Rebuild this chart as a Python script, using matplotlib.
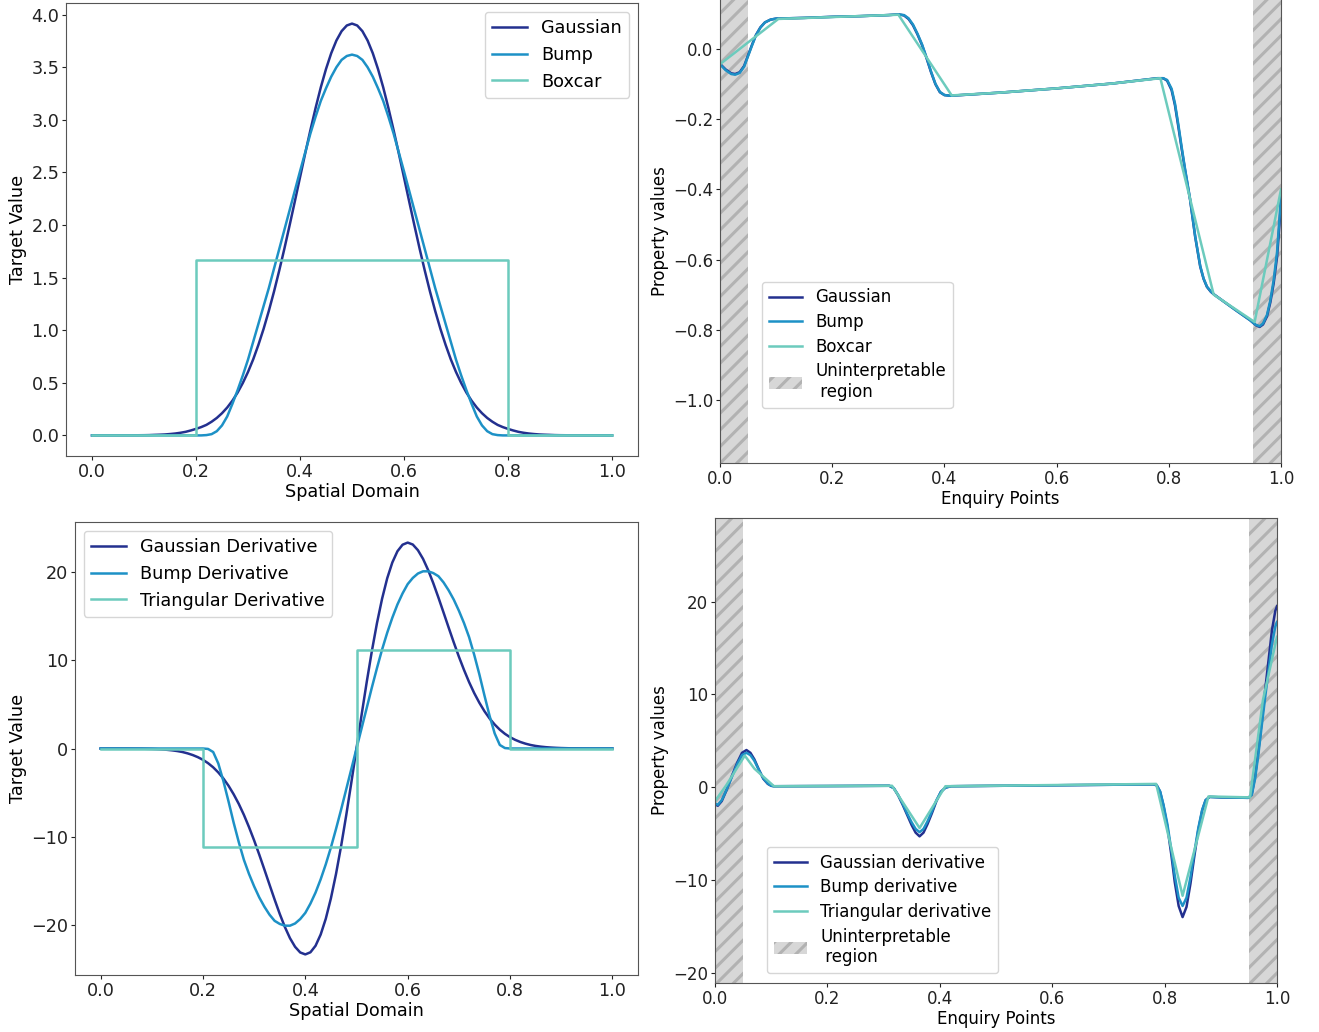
import matplotlib
matplotlib.use("Agg")
import matplotlib.pyplot as plt
from matplotlib.patches import Patch

plt.rcParams['font.family'] = ['DejaVu Sans']
plt.rcParams['hatch.linewidth'] = 2.2

# ---------------- colours ----------------
C_DARK = '#23308f'
C_MID = '#1d91c6'
C_LIGHT = '#6ccbbd'
HATCH_FACE = '#d7d7d7'
HATCH_EDGE = '#b2b2b2'
SPINE = '#555555'

# ---------------- panel (a): kernels ----------------
kernel_x = [0.00, 0.01, 0.02, 0.03, 0.04, 0.05, 0.06, 0.07, 0.08, 0.09,
            0.10, 0.11, 0.12, 0.13, 0.14, 0.15, 0.16, 0.17, 0.18, 0.19,
            0.20, 0.21, 0.22, 0.23, 0.24, 0.25, 0.26, 0.27, 0.28, 0.29,
            0.30, 0.31, 0.32, 0.33, 0.34, 0.35, 0.36, 0.37, 0.38, 0.39,
            0.40, 0.41, 0.42, 0.43, 0.44, 0.45, 0.46, 0.47, 0.48, 0.49,
            0.50, 0.51, 0.52, 0.53, 0.54, 0.55, 0.56, 0.57, 0.58, 0.59,
            0.60, 0.61, 0.62, 0.63, 0.64, 0.65, 0.66, 0.67, 0.68, 0.69,
            0.70, 0.71, 0.72, 0.73, 0.74, 0.75, 0.76, 0.77, 0.78, 0.79,
            0.80, 0.81, 0.82, 0.83, 0.84, 0.85, 0.86, 0.87, 0.88, 0.89,
            0.90, 0.91, 0.92, 0.93, 0.94, 0.95, 0.96, 0.97, 0.98, 0.99, 1.00]
gaussian_vals = [0.0, 0.0, 0.0, 0.0, 0.0, 0.0001, 0.0004, 0.0007, 0.001, 0.0015,
                 0.002, 0.003, 0.005, 0.0067, 0.009, 0.013, 0.018, 0.025, 0.034, 0.047,
                 0.062, 0.079, 0.100, 0.130, 0.166, 0.211, 0.265, 0.330, 0.407, 0.498,
                 0.603, 0.723, 0.861, 1.013, 1.183, 1.367, 1.566, 1.776, 1.997, 2.223,
                 2.453, 2.681, 2.902, 3.113, 3.309, 3.483, 3.633, 3.754, 3.843, 3.897,
                 3.915,
                 3.897, 3.843, 3.754, 3.633, 3.483, 3.309, 3.113, 2.902, 2.681, 2.453,
                 2.223, 1.997, 1.776, 1.566, 1.367, 1.183, 1.013, 0.861, 0.723, 0.603,
                 0.498, 0.407, 0.330, 0.265, 0.211, 0.166, 0.130, 0.100, 0.079, 0.062,
                 0.047, 0.034, 0.025, 0.018, 0.013, 0.009, 0.0067, 0.005, 0.003, 0.002,
                 0.0015, 0.001, 0.0007, 0.0004, 0.0001, 0.0, 0.0, 0.0, 0.0, 0.0]
bump_vals = [0.0, 0.0, 0.0, 0.0, 0.0, 0.0, 0.0, 0.0, 0.0, 0.0,
             0.0, 0.0, 0.0, 0.0, 0.0, 0.0, 0.0, 0.0, 0.0, 0.0,
             0.0, 0.0, 0.003, 0.012, 0.04, 0.095, 0.18, 0.30, 0.43, 0.57,
             0.72, 0.89, 1.06, 1.23, 1.40, 1.585, 1.77, 1.955, 2.14, 2.325,
             2.51, 2.69, 2.87, 3.03, 3.18, 3.30, 3.41, 3.50, 3.57, 3.607,
             3.62,
             3.607, 3.57, 3.50, 3.41, 3.30, 3.18, 3.03, 2.87, 2.69, 2.51,
             2.325, 2.14, 1.955, 1.77, 1.585, 1.40, 1.23, 1.06, 0.89, 0.72,
             0.57, 0.43, 0.30, 0.18, 0.095, 0.04, 0.012, 0.003, 0.0, 0.0,
             0.0, 0.0, 0.0, 0.0, 0.0, 0.0, 0.0, 0.0, 0.0, 0.0,
             0.0, 0.0, 0.0, 0.0, 0.0, 0.0, 0.0, 0.0, 0.0, 0.0]
boxcar_x = [0.0, 0.2, 0.2, 0.8, 0.8, 1.0]
boxcar_vals = [0.0, 0.0, 1.667, 1.667, 0.0, 0.0]

# ---------------- panel (c): kernel derivatives ----------------
gauss_deriv_vals = [-0.001, -0.001, -0.002, -0.003, -0.004, -0.007, -0.01, -0.016, -0.02, -0.035,
                    -0.05, -0.075, -0.107, -0.15, -0.21, -0.29, -0.40, -0.55, -0.74, -0.98,
                    -1.28, -1.66, -2.13, -2.71, -3.40, -4.22, -5.18, -6.27, -7.51, -8.90,
                    -10.40, -12.01, -13.69, -15.40, -17.09, -18.71, -20.19, -21.46, -22.44, -23.08,
                    -23.30, -23.06, -22.32, -21.05, -19.26, -16.95, -14.19, -11.02, -7.53, -3.82,
                    0.0,
                    3.82, 7.53, 11.02, 14.19, 16.95, 19.26, 21.05, 22.32, 23.06, 23.30,
                    23.08, 22.44, 21.46, 20.19, 18.71, 17.09, 15.40, 13.69, 12.01, 10.40,
                    8.90, 7.51, 6.27, 5.18, 4.22, 3.40, 2.71, 2.13, 1.66, 1.28,
                    0.98, 0.74, 0.55, 0.40, 0.29, 0.21, 0.15, 0.107, 0.075, 0.05,
                    0.035, 0.02, 0.016, 0.01, 0.007, 0.004, 0.003, 0.002, 0.001, 0.001]
bump_deriv_vals = [0.0, 0.0, 0.0, 0.0, 0.0, 0.0, 0.0, 0.0, 0.0, 0.0,
                   0.0, 0.0, 0.0, 0.0, 0.0, 0.0, 0.0, 0.0, 0.0, 0.0,
                   0.0, -0.05, -0.4, -1.7, -3.7, -6.0, -8.4, -10.6, -12.6, -14.2,
                   -15.6, -16.85, -17.9, -18.8, -19.5, -19.85, -20.05, -20.05, -19.8, -19.3,
                   -18.6, -17.55, -16.3, -14.8, -13.1, -11.2, -9.1, -6.9, -4.6, -2.3,
                   0.0,
                   2.3, 4.6, 6.9, 9.1, 11.2, 13.1, 14.8, 16.3, 17.55, 18.6,
                   19.3, 19.8, 20.05, 20.05, 19.85, 19.5, 18.8, 17.9, 16.85, 15.6,
                   14.2, 12.6, 10.6, 8.4, 6.0, 3.7, 1.7, 0.4, 0.05, 0.0,
                   0.0, 0.0, 0.0, 0.0, 0.0, 0.0, 0.0, 0.0, 0.0, 0.0,
                   0.0, 0.0, 0.0, 0.0, 0.0, 0.0, 0.0, 0.0, 0.0, 0.0]
tri_deriv_x = [0.0, 0.2, 0.2, 0.5, 0.5, 0.8, 0.8, 1.0]
tri_deriv_vals = [0.0, 0.0, -11.1, -11.1, 11.1, 11.1, 0.0, 0.0]

# ---------------- panel (b): property values at enquiry points ----------------
prop_gauss_x = [0.0, 0.01, 0.02, 0.027, 0.035, 0.043, 0.05, 0.057, 0.064, 0.072,
                0.08, 0.09, 0.10, 0.15, 0.20, 0.25, 0.30, 0.318, 0.328, 0.336,
                0.344, 0.352, 0.36, 0.368, 0.376, 0.384, 0.392, 0.40, 0.41, 0.50,
                0.60, 0.70, 0.78, 0.79, 0.797, 0.805, 0.811, 0.817, 0.823, 0.829,
                0.838, 0.847, 0.856, 0.862, 0.868, 0.875, 0.881, 0.90, 0.92, 0.945,
                0.955, 0.962, 0.968, 0.975, 0.981, 0.987, 0.993, 1.0]
prop_gauss_vals = [-0.042, -0.058, -0.069, -0.071, -0.066, -0.048, -0.018, 0.012, 0.040, 0.062,
                   0.076, 0.084, 0.087, 0.089, 0.092, 0.094, 0.097, 0.099, 0.096, 0.086,
                   0.068, 0.042, 0.012, -0.025, -0.065, -0.100, -0.123, -0.131, -0.133, -0.124,
                   -0.112, -0.098, -0.083, -0.083, -0.090, -0.117, -0.160, -0.221, -0.285, -0.345,
                   -0.430, -0.535, -0.620, -0.655, -0.678, -0.692, -0.700, -0.722, -0.745, -0.773,
                   -0.787, -0.792, -0.785, -0.762, -0.722, -0.667, -0.592, -0.440]
prop_bump_vals = [-0.043, -0.060, -0.071, -0.073, -0.068, -0.050, -0.020, 0.010, 0.039, 0.061,
                  0.076, 0.084, 0.087, 0.089, 0.092, 0.094, 0.097, 0.099, 0.097, 0.088,
                  0.070, 0.044, 0.014, -0.023, -0.063, -0.099, -0.122, -0.131, -0.133, -0.124,
                  -0.112, -0.098, -0.083, -0.083, -0.088, -0.113, -0.155, -0.215, -0.280, -0.342,
                  -0.428, -0.533, -0.618, -0.654, -0.677, -0.691, -0.700, -0.722, -0.745, -0.773,
                  -0.786, -0.790, -0.782, -0.758, -0.716, -0.658, -0.578, -0.420]
prop_box_x = [0.0, 0.104, 0.318, 0.413, 0.5, 0.6, 0.7, 0.785, 0.880, 0.953, 1.0]
prop_box_vals = [-0.043, 0.086, 0.098, -0.132, -0.124, -0.112, -0.098, -0.083, -0.700, -0.778, -0.400]

# ---------------- panel (d): derivative property values ----------------
dprop_gauss_x = [0.0, 0.005, 0.012, 0.02, 0.03, 0.04, 0.048, 0.056, 0.063, 0.07,
                 0.078, 0.086, 0.094, 0.10, 0.105, 0.20, 0.31, 0.318, 0.326, 0.334,
                 0.342, 0.35, 0.357, 0.364, 0.371, 0.378, 0.386, 0.394, 0.402, 0.41,
                 0.42, 0.60, 0.78, 0.786, 0.792, 0.798, 0.805, 0.812, 0.818, 0.825,
                 0.832, 0.839, 0.846, 0.853, 0.86, 0.867, 0.873, 0.88, 0.90, 0.949,
                 0.955, 0.961, 0.967, 0.973, 0.979, 0.985, 0.991, 0.997, 1.0]
dprop_gauss_vals = [-1.85, -2.0, -1.5, -0.4, 1.2, 2.7, 3.7, 4.0, 3.7, 3.0,
                    1.9, 0.9, 0.35, 0.15, 0.1, 0.12, 0.15, -0.1, -0.9, -1.9,
                    -3.0, -4.1, -4.9, -5.3, -4.9, -4.0, -2.8, -1.5, -0.5, -0.05,
                    0.1, 0.2, 0.3, 0.2, -0.5, -2.0, -4.3, -7.3, -10.2, -12.8,
                    -14.0, -12.9, -10.4, -7.4, -4.6, -2.5, -1.4, -1.05, -1.1, -1.15,
                    -0.8, 1.2, 4.0, 7.2, 10.5, 13.7, 16.9, 19.0, 19.5]
dprop_bump_vals = [-1.75, -1.9, -1.4, -0.35, 1.1, 2.55, 3.45, 3.7, 3.45, 2.85,
                   1.85, 0.95, 0.4, 0.15, 0.1, 0.12, 0.15, -0.1, -0.85, -1.8,
                   -2.85, -3.8, -4.5, -4.85, -4.5, -3.7, -2.6, -1.4, -0.5, -0.05,
                   0.1, 0.2, 0.3, 0.2, -0.45, -1.9, -4.0, -6.8, -9.5, -11.9,
                   -12.8, -11.9, -9.7, -7.0, -4.4, -2.4, -1.4, -1.05, -1.1, -1.15,
                   -0.85, 0.9, 3.6, 6.7, 9.7, 12.6, 15.4, 17.3, 17.8]
dprop_tri_x = [0.0, 0.02, 0.053, 0.07, 0.105, 0.315, 0.364, 0.41, 0.785, 0.832, 0.878, 0.952, 0.975, 1.0]
dprop_tri_vals = [-1.5, 0.2, 3.4, 2.0, 0.1, 0.15, -4.4, 0.1, 0.35, -11.7, -1.0, -1.1, 9.4, 16.2]

FIG_W, FIG_H = 1319, 1032
fig = plt.figure(figsize=(FIG_W / 100, FIG_H / 100), dpi=100)


def rect(left, top, right, bottom):
    return [left / FIG_W, 1 - bottom / FIG_H, (right - left) / FIG_W, (bottom - top) / FIG_H]


def style(ax, fs):
    for s in ax.spines.values():
        s.set_edgecolor(SPINE)
    ax.tick_params(labelsize=fs, colors='#222222', length=3, pad=1.8)


LW = 1.8

# (a) top-left
FS_L = 12.7
ax1 = fig.add_axes(rect(66, 3, 638, 456))
ax1.plot(kernel_x, gaussian_vals, color=C_DARK, lw=LW, label='Gaussian')
ax1.plot(kernel_x, bump_vals, color=C_MID, lw=LW, label='Bump')
ax1.plot(boxcar_x, boxcar_vals, color=C_LIGHT, lw=LW, label='Boxcar')
ax1.set_xlabel('Spatial Domain', fontsize=FS_L, labelpad=2)
ax1.set_ylabel('Target Value', fontsize=FS_L, labelpad=3)
ax1.legend(loc='upper right', fontsize=FS_L)
style(ax1, FS_L)

# (c) bottom-left
ax3 = fig.add_axes(rect(75, 522, 638, 975))
ax3.plot(kernel_x, gauss_deriv_vals, color=C_DARK, lw=LW, label='Gaussian Derivative')
ax3.plot(kernel_x, bump_deriv_vals, color=C_MID, lw=LW, label='Bump Derivative')
ax3.plot(tri_deriv_x, tri_deriv_vals, color=C_LIGHT, lw=LW, label='Triangular Derivative')
ax3.set_xlabel('Spatial Domain', fontsize=FS_L, labelpad=2)
ax3.set_ylabel('Target Value', fontsize=FS_L, labelpad=3)
ax3.legend(loc='upper left', fontsize=FS_L)
style(ax3, FS_L)

FS_R = 12.0


def hatch_regions(ax):
    for lo, hi in [(0.0, 0.05), (0.95, 1.0)]:
        ax.axvspan(lo, hi, facecolor=HATCH_FACE, edgecolor=HATCH_EDGE,
                   hatch='//', linewidth=0, zorder=0)


def region_handle():
    return Patch(facecolor=HATCH_FACE, edgecolor=HATCH_EDGE, hatch='//',
                 linewidth=0, label='Uninterpretable\n region')


# (b) top-right
ax2 = fig.add_axes(rect(720, 0, 1281, 463))
hatch_regions(ax2)
ax2.plot(prop_gauss_x, prop_gauss_vals, color=C_DARK, lw=LW, label='Gaussian')
ax2.plot(prop_gauss_x, prop_bump_vals, color=C_MID, lw=LW, label='Bump')
ax2.plot(prop_box_x, prop_box_vals, color=C_LIGHT, lw=LW, label='Boxcar')
ax2.set_xlim(0, 1)
ax2.set_ylim(-1.18, 0.14)
ax2.spines['top'].set_visible(False)
ax2.set_xlabel('Enquiry Points', fontsize=FS_R, labelpad=2)
ax2.set_ylabel('Property values', fontsize=FS_R, labelpad=3)
h, l = ax2.get_legend_handles_labels()
h.append(region_handle())
ax2.legend(handles=h, loc='lower left', bbox_to_anchor=(0.075, 0.119),
           borderaxespad=0, fontsize=FS_R, labelspacing=0.4)
style(ax2, FS_R)

# (d) bottom-right
ax4 = fig.add_axes(rect(715, 518, 1277, 983))
hatch_regions(ax4)
ax4.plot(dprop_gauss_x, dprop_gauss_vals, color=C_DARK, lw=LW, label='Gaussian derivative')
ax4.plot(dprop_gauss_x, dprop_bump_vals, color=C_MID, lw=LW, label='Bump derivative')
ax4.plot(dprop_tri_x, dprop_tri_vals, color=C_LIGHT, lw=LW, label='Triangular derivative')
ax4.set_xlim(0, 1)
ax4.set_ylim(-21.1, 29.0)
ax4.set_xlabel('Enquiry Points', fontsize=FS_R, labelpad=2)
ax4.set_ylabel('Property values', fontsize=FS_R, labelpad=3)
h, l = ax4.get_legend_handles_labels()
h.append(region_handle())
ax4.legend(handles=h, loc='lower left', bbox_to_anchor=(0.0925, 0.0215),
           borderaxespad=0, fontsize=FS_R, labelspacing=0.4)
style(ax4, FS_R)

fig.savefig('out.png', dpi=100)
